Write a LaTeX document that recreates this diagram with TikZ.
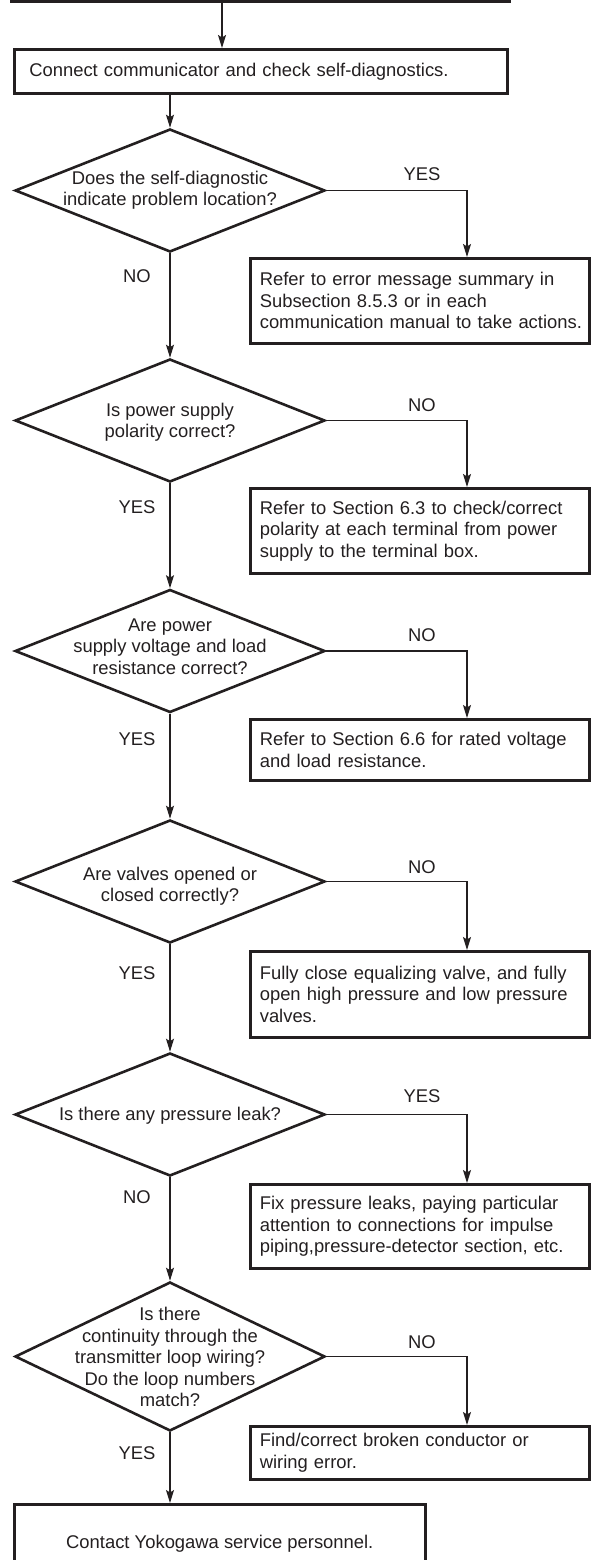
\documentclass[tikz,border=0pt]{standalone}
\usepackage{fontspec}
\setmainfont{Liberation Sans}
\usepackage{tikz}
\usetikzlibrary{shapes.geometric, arrows.meta, positioning, calc}
\definecolor{InkBlack}{HTML}{231F20}
\hyphenpenalty=10000
\exhyphenpenalty=10000

\begin{document}
\begin{tikzpicture}[x=1pt, y=-1pt,
    every node/.style={font={\fontsize{18.4}{21.5}\selectfont}, text=InkBlack},
    actionbox/.style={draw=InkBlack, line width=2.6pt, rectangle, anchor=north west,
        minimum width=339pt, text width=320pt, inner xsep=9.5pt, inner ysep=4pt, align=left},
    decision/.style={draw=InkBlack, line width=2.6pt, diamond, minimum width=310pt,
        minimum height=123pt, inner sep=0pt},
    qtext/.style={align=center, inner sep=0pt},
    answer/.style={inner sep=0pt},
    flow/.style={draw=InkBlack, line width=1.3pt,
        -{Stealth[length=13pt, width=8pt, inset=2.5pt]}}]
    \useasboundingbox (0,0) rectangle (595,1560);
    \clip (0,0) rectangle (595,1560);

    % Column positions of the side connectors
    \coordinate (tx) at (222,0);
    \coordinate (rx) at (467,0);

    % Previous step (cut off) and first action
    \node[draw=InkBlack, line width=2.6pt, minimum width=498pt, minimum height=40pt,
        anchor=south west] (prevbox) at (10,3) {};
    \node[actionbox, minimum width=493pt, text width=463pt, inner xsep=15pt,
        minimum height=44pt] (connect) at (13,48) {Connect communicator and check self-diagnostics.};

    % Decisions down the main column
    \node[decision] (qdiag) at (170,190.5) {};
    \node[qtext] (qdiagtext) at (170,190) {Does the self-diagnostic\\indicate problem location?};
    \node[decision] (qpol) at (170,420.5) {};
    \node[qtext] (qpoltext) at (170,422) {Is power supply\\polarity correct?};
    \node[decision] (qvolt) at (170,651) {};
    \node[qtext] (qvolttext) at (170,646.5) {Are power\\supply voltage and load\\resistance correct?};
    \node[decision] (qvalve) at (170,881.5) {};
    \node[qtext] (qvalvetext) at (170,886) {Are valves opened or\\closed correctly?};
    \node[decision] (qleak) at (170,1114.5) {};
    \node[qtext] (qleaktext) at (170,1116) {Is there any pressure leak?};
    \node[decision, minimum height=149pt] (qloop) at (170,1356.5) {};
    \node[qtext] (qlooptext) at (170,1357) {Is there\\continuity through the\\transmitter loop wiring?\\Do the loop numbers\\match?};

    % Actions on the right
    \node[actionbox, minimum height=85pt] (fixdiag) at (249,257) {Refer to error message summary in\\Subsection 8.5.3 or in each\\communication~manual~to~take~actions.};
    \node[actionbox, minimum height=85pt] (fixpol) at (249,487) {Refer~to~Section~6.3~to~check/correct\\polarity~at~each~terminal~from~power\\supply to the terminal box.};
    \node[actionbox, minimum height=61pt] (fixvolt) at (249,718) {Refer~to~Section~6.6~for~rated~voltage\\and load resistance.};
    \node[actionbox, minimum height=86pt] (fixvalve) at (249,950) {Fully~close~equalizing~valve,~and~fully\\open high pressure and low pressure\\valves.};
    \node[actionbox, minimum height=84pt] (fixleak) at (249,1183) {Fix pressure leaks, paying particular\\attention to connections for impulse\\piping,pressure-detector~section,~etc.};
    \node[actionbox, minimum height=53pt] (fixloop) at (249,1425) {Find/correct broken conductor or\\wiring error.};

    % Last step (cut off at the bottom)
    \node[draw=InkBlack, line width=2.6pt, minimum width=411pt, minimum height=78pt,
        anchor=north west] (contact) at (13,1503) {Contact Yokogawa service personnel.};

    % Answers
    \node[answer] (adiag) at (422,174) {YES};
    \node[answer] (adiagno) at (137,276) {NO};
    \node[answer] (apol) at (422,405) {NO};
    \node[answer] (apolyes) at (137,507) {YES};
    \node[answer] (avolt) at (422,635) {NO};
    \node[answer] (avoltyes) at (137,739) {YES};
    \node[answer] (avalve) at (422,867) {NO};
    \node[answer] (avalveyes) at (137,973) {YES};
    \node[answer] (aleak) at (422,1096) {YES};
    \node[answer] (aleakno) at (137,1197) {NO};
    \node[answer] (aloop) at (422,1342) {NO};
    \node[answer] (aloopyes) at (137,1453) {YES};

    % Main column
    \draw[flow] (tx |- prevbox.south) -- (tx |- connect.north);
    \draw[flow] (connect.south -| qdiag.north) -- (qdiag.north);
    \draw[flow] (qdiag.south) -- (qpol.north);
    \draw[flow] (qpol.south) -- (qvolt.north);
    \draw[flow] (qvolt.south) -- (qvalve.north);
    \draw[flow] (qvalve.south) -- (qleak.north);
    \draw[flow] (qleak.south) -- (qloop.north);
    \draw[flow] (qloop.south) -- (qloop.south |- contact.north);

    % Side branches
    \draw[flow] (qdiag.east) -| (rx |- fixdiag.north);
    \draw[flow] (qpol.east) -| (rx |- fixpol.north);
    \draw[flow] (qvolt.east) -| (rx |- fixvolt.north);
    \draw[flow] (qvalve.east) -| (rx |- fixvalve.north);
    \draw[flow] (qleak.east) -| (rx |- fixleak.north);
    \draw[flow] (qloop.east) -| (rx |- fixloop.north);
\end{tikzpicture}
\end{document}
